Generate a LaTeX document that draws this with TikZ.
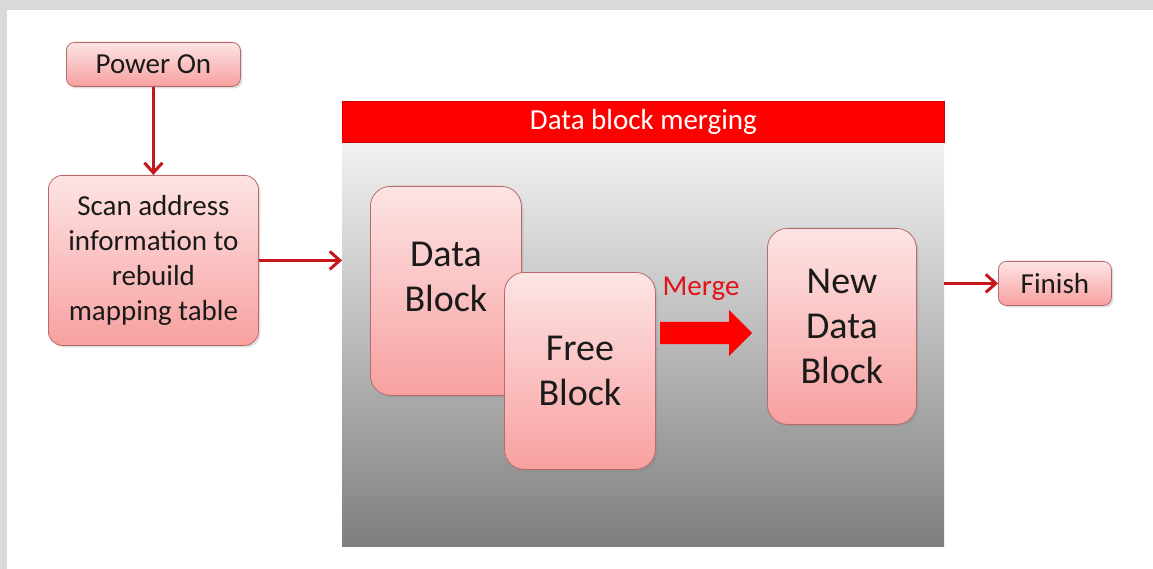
\documentclass[tikz,border=0pt]{standalone}
\usepackage{fontspec}
\setmainfont{Carlito}
\usetikzlibrary{arrows.meta,shapes.arrows,shadows,calc}
\definecolor{framegray}{HTML}{D9D9D9}
\definecolor{arrowred}{HTML}{C8161D}
\definecolor{boxtop}{HTML}{FDE4E4}
\definecolor{boxbottom}{HTML}{F8A0A0}
\definecolor{boxborder}{HTML}{B86A6A}
\definecolor{paneltop}{HTML}{F2F2F2}
\definecolor{panelbottom}{HTML}{7F7F7F}
\definecolor{headred}{HTML}{FF0000}
\definecolor{mergered}{HTML}{E0141A}
\definecolor{textdark}{HTML}{1A1A1A}
\tikzset{
  pinkbox/.style={draw=boxborder, line width=0.8pt, top color=boxtop, bottom color=boxbottom,
    anchor=north west, align=center, inner sep=0pt, text=textdark,
    drop shadow={opacity=0.25, shadow xshift=2pt, shadow yshift=-2pt}},
  smallbox/.style={pinkbox, rounded corners=8pt, font=\fontsize{29}{35}\selectfont},
  bigbox/.style={pinkbox, rounded corners=20pt, font=\fontsize{38}{45}\selectfont},
  bigtext/.style={align=center, text=textdark, font=\fontsize{38}{45}\selectfont},
  flow/.style={draw=arrowred, line width=3pt, -{Straight Barb[length=10pt, width=18pt, line width=3pt]}}
}
\begin{document}
\begin{tikzpicture}[x=1pt, y=-1pt]
\useasboundingbox (0,0) rectangle (1153,569);
\fill[white] (0,0) rectangle (1153,569);
\fill[framegray] (0,0) rectangle (1153,10);
\fill[framegray] (0,0) rectangle (7,569);

% panel
\node (panel) [anchor=north west, inner sep=0pt, minimum width=602pt, minimum height=404pt,
  top color=paneltop, bottom color=panelbottom] at (342,142) {};
\node (header) [anchor=north west, inner sep=0pt, minimum width=602pt, minimum height=41pt,
  fill=headred, draw=red!80!black, line width=0.8pt, text=white, font=\fontsize{29}{35}\selectfont] at (342,101) {Data block merging};

% boxes
\node (power) [smallbox, minimum width=174pt, minimum height=44pt] at (66,42) {Power On};
\node (scan) [smallbox, rounded corners=14pt, minimum width=210pt, minimum height=170pt] at (48,175)
  {Scan address\\information to\\rebuild\\mapping table};
\node (data) [bigbox, minimum width=151pt, minimum height=209pt] at (370,186) {};
\node (datatext) [bigtext] at ($(data.center)+(0,-14)$) {Data\\Block};
\node (free) [bigbox, minimum width=151pt, minimum height=197pt] at (504,272) {Free\\Block};
\node (new) [bigbox, minimum width=149pt, minimum height=196pt] at (767,228) {New\\Data\\Block};
\node (finish) [smallbox, minimum width=113pt, minimum height=44pt] at (998,261) {Finish};

% merge arrow
\node (mergelabel) [text=mergered, font=\fontsize{29}{35}\selectfont] at (701,289) {Merge};
\node (mergearrow) [single arrow, fill=headred, draw=none, anchor=west, inner sep=11pt,
  minimum height=92pt, single arrow head extend=12pt, shape border rotate=0] at (660,333) {};

% connectors
\draw[flow] (power.south) -- (scan.north);
\draw[flow] (scan.east) -- (scan.east -| panel.west);
\draw[flow] (finish.west -| panel.east) -- (finish.west);
\end{tikzpicture}
\end{document}
